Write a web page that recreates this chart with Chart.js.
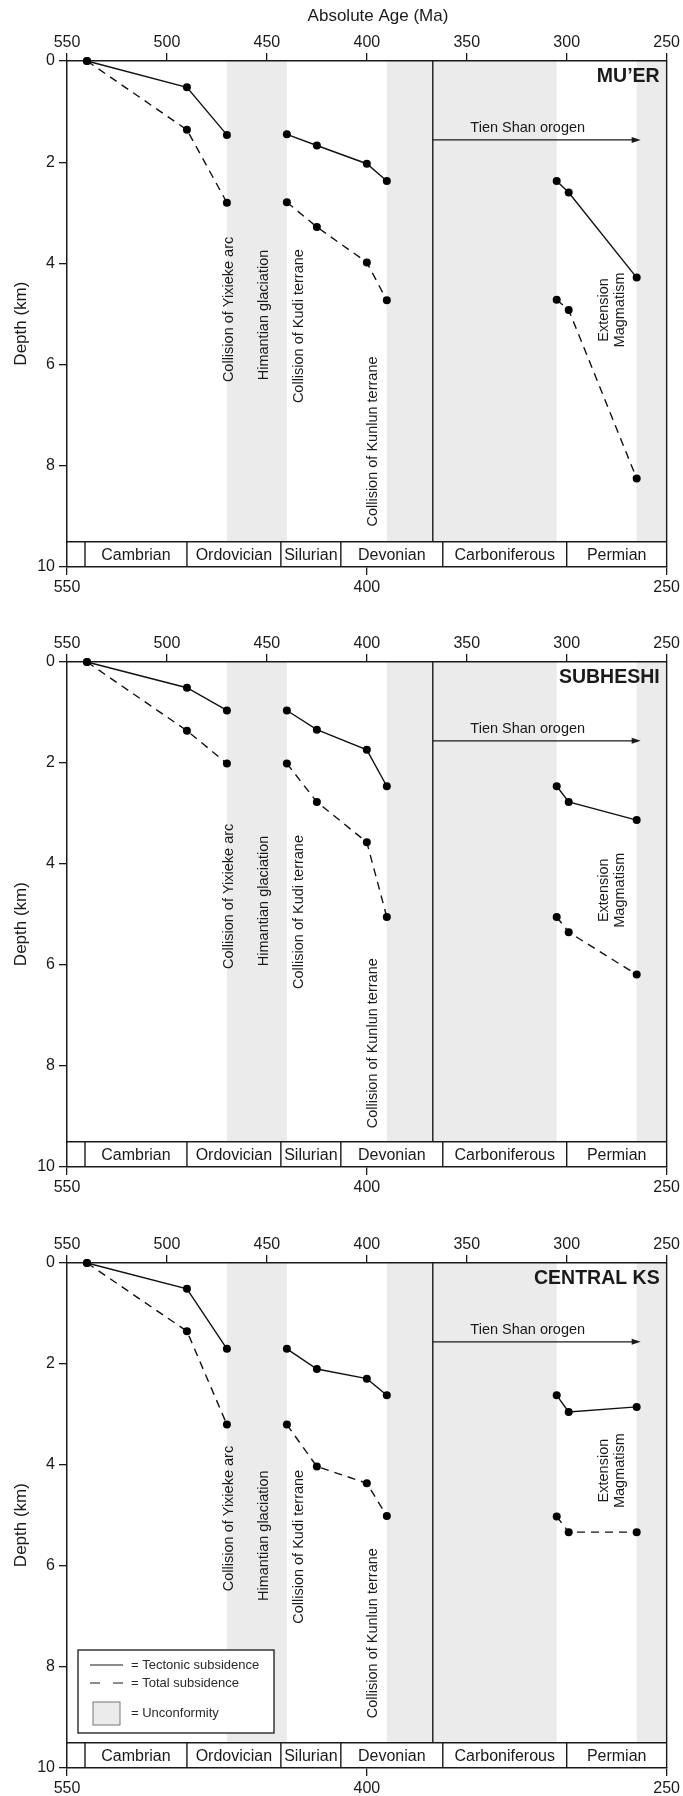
<!DOCTYPE html>
<html>
<head>
<meta charset="utf-8">
<title>Subsidence curves</title>
<script src="https://cdn.jsdelivr.net/npm/chart.js@4.4.1/dist/chart.umd.min.js"></script>
<style>
  body { margin: 0; background: #fff; }
  #wrap { position: relative; width: 683px; height: 1796px; overflow: hidden; }
  canvas { position: absolute; left: 0; }
</style>
</head>
<body>
<div id="wrap">
  <canvas id="muer" width="683" height="601" style="top:0px"></canvas>
  <canvas id="subheshi" width="683" height="601" style="top:601px"></canvas>
  <canvas id="central" width="683" height="594" style="top:1202px"></canvas>
</div>
<script>
// Ages (Ma) of the control points, same for the three wells
const sampleAges = [540, 490, 470, 440, 425, 400, 390, 305, 299, 265];
// curves are not joined after these indexes (unconformities)
const gapAfter = [2, 6];

// Depth (km)
const muerTectonic = [0, 0.52, 1.46, 1.45, 1.67, 2.03, 2.37, 2.37, 2.6, 4.28];
const muerTotal = [0, 1.36, 2.8, 2.79, 3.28, 3.98, 4.73, 4.72, 4.92, 8.25];
const subheshiTectonic = [0, 0.51, 0.96, 0.96, 1.34, 1.74, 2.46, 2.46, 2.77, 3.13];
const subheshiTotal = [0, 1.36, 2.01, 2.01, 2.77, 3.57, 5.05, 5.05, 5.35, 6.19];
const centralTectonic = [0, 0.51, 1.7, 1.7, 2.1, 2.29, 2.62, 2.62, 2.95, 2.85];
const centralTotal = [0, 1.35, 3.2, 3.2, 4.03, 4.36, 5.01, 5.02, 5.33, 5.33];

// Axes
const topTicks = [550, 500, 450, 400, 350, 300, 250];
const bottomTicks = [550, 400, 250];
const depthTicks = [0, 2, 4, 6, 8, 10];

// Geological time scale row
const periodNames = ['Cambrian', 'Ordovician', 'Silurian', 'Devonian', 'Carboniferous', 'Permian'];
const periodBounds = [541, 490, 443, 413, 362, 300, 250];

// Grey unconformity bands (from, to in Ma)
const unconformities = [[470, 440], [390, 305], [265, 250]];

// Tectonic events
const eventNames = ['Collision of Yixieke arc', 'Himantian glaciation', 'Collision of Kudi terrane', 'Collision of Kunlun terrane'];
const eventAges = [469.2, 451.6, 433.8, 397];
const orogenName = 'Tien Shan orogen';
const orogenFrom = 367;
const orogenTo = 263;
const extensionLines = ['Extension', 'Magmatism'];
const extensionAges = [281.5, 273.5];

const FONT = "'Liberation Sans', Arial, Helvetica, sans-serif";
const INK = '#1a1a1a';

Chart.defaults.font.family = FONT;
Chart.defaults.color = INK;

// layout of each panel, positions of the rotated texts are depths in km
const panels = [
    { id: 'muer', name: 'MU\u2019ER', tectonic: muerTectonic, total: muerTotal,
      height: 601, top: 61, bottom: 567, ageTitle: true,
      eventDepth: [4.91, 5.02, 5.24, 7.52], extDepth: 4.92, legend: false },
    { id: 'subheshi', name: 'SUBHESHI', tectonic: subheshiTectonic, total: subheshiTotal,
      height: 601, top: 61, bottom: 566, ageTitle: false,
      eventDepth: [4.64, 4.73, 4.95, 7.55], extDepth: 4.52, legend: false },
    { id: 'central', name: 'CENTRAL KS', tectonic: centralTectonic, total: centralTotal,
      height: 594, top: 61, bottom: 566, ageTitle: false,
      eventDepth: [5.06, 5.4, 5.62, 7.33], extDepth: 4.11, legend: true }
];

function points(depths) {
    return sampleAges.map((age, i) => ({ x: age, y: depths[i] }));
}

function upText(ctx, text, px, py) {
    ctx.save();
    ctx.translate(px, py);
    ctx.rotate(-Math.PI / 2);
    ctx.textAlign = 'center';
    ctx.textBaseline = 'middle';
    ctx.fillText(text, 0, 0);
    ctx.restore();
}

function decor(panel) {
    return {
        id: 'decor_' + panel.id,
        beforeDraw(chart) {
            const { ctx, scales: { x, y } } = chart;
            ctx.save();
            ctx.fillStyle = '#ebebeb';
            unconformities.forEach(([from, to]) => {
                const x0 = x.getPixelForValue(from);
                const x1 = x.getPixelForValue(to);
                const y0 = y.getPixelForValue(0);
                const y1 = y.getPixelForValue(9.5);
                ctx.fillRect(x0, y0, x1 - x0, y1 - y0);
            });
            ctx.restore();
        },
        afterDatasetsDraw(chart) {
            const { ctx, chartArea: a, scales: { x, y } } = chart;
            ctx.save();
            ctx.strokeStyle = INK;
            ctx.lineWidth = 1.4;

            // right side of the frame
            ctx.beginPath();
            ctx.moveTo(a.right, a.top);
            ctx.lineTo(a.right, a.bottom);
            ctx.stroke();

            // period row
            const yRow = y.getPixelForValue(9.5);
            ctx.beginPath();
            ctx.moveTo(a.left, yRow);
            ctx.lineTo(a.right, yRow);
            periodBounds.slice(0, -1).forEach(b => {
                const px = x.getPixelForValue(b);
                ctx.moveTo(px, yRow);
                ctx.lineTo(px, a.bottom);
            });
            // start of the Tien Shan orogeny
            const xo = x.getPixelForValue(orogenFrom);
            ctx.moveTo(xo, a.top);
            ctx.lineTo(xo, yRow);
            ctx.stroke();

            ctx.fillStyle = INK;
            ctx.font = '16px ' + FONT;
            ctx.textAlign = 'center';
            ctx.textBaseline = 'middle';
            periodNames.forEach((name, i) => {
                const mid = (periodBounds[i] + periodBounds[i + 1]) / 2;
                ctx.fillText(name, x.getPixelForValue(mid), y.getPixelForValue(9.75) + 1);
            });

            // orogen arrow
            const ya = y.getPixelForValue(1.56);
            const xe = x.getPixelForValue(orogenTo);
            ctx.lineWidth = 1.2;
            ctx.beginPath();
            ctx.moveTo(xo, ya);
            ctx.lineTo(xe - 6, ya);
            ctx.stroke();
            ctx.beginPath();
            ctx.moveTo(xe, ya);
            ctx.lineTo(xe - 9, ya - 3);
            ctx.lineTo(xe - 9, ya + 3);
            ctx.closePath();
            ctx.fill();
            ctx.font = '14.5px ' + FONT;
            ctx.fillText(orogenName, x.getPixelForValue(319.5), y.getPixelForValue(1.32));

            // rotated event labels
            eventNames.forEach((label, i) => {
                upText(ctx, label, x.getPixelForValue(eventAges[i]), y.getPixelForValue(panel.eventDepth[i]));
            });
            extensionLines.forEach((label, i) => {
                upText(ctx, label, x.getPixelForValue(extensionAges[i]), y.getPixelForValue(panel.extDepth));
            });

            // well name
            ctx.font = 'bold 19.5px ' + FONT;
            ctx.textAlign = 'right';
            ctx.fillText(panel.name, a.right - 7, a.top + 16);

            // depth title
            ctx.font = '17px ' + FONT;
            upText(ctx, 'Depth (km)', 21, y.getPixelForValue(5.19));

            if (panel.ageTitle) {
                ctx.textAlign = 'center';
                ctx.fillText('Absolute Age (Ma)', 378, 16);
            }

            if (panel.legend) {
                const bx = a.left + 11, by = a.bottom - 118, bw = 196, bh = 83;
                ctx.fillStyle = '#fff';
                ctx.fillRect(bx, by, bw, bh);
                ctx.lineWidth = 1.3;
                ctx.strokeRect(bx, by, bw, bh);
                ctx.lineWidth = 1.2;
                ctx.beginPath();
                ctx.moveTo(bx + 12, by + 15);
                ctx.lineTo(bx + 45, by + 15);
                ctx.stroke();
                ctx.setLineDash([10, 13]);
                ctx.beginPath();
                ctx.moveTo(bx + 12, by + 33);
                ctx.lineTo(bx + 45, by + 33);
                ctx.stroke();
                ctx.setLineDash([]);
                ctx.fillStyle = '#ebebeb';
                ctx.fillRect(bx + 15, by + 52, 27, 23);
                ctx.strokeStyle = '#777';
                ctx.lineWidth = 1;
                ctx.strokeRect(bx + 15, by + 52, 27, 23);
                ctx.fillStyle = '#2a2a2a';
                ctx.font = '13px ' + FONT;
                ctx.textAlign = 'left';
                ctx.textBaseline = 'middle';
                ctx.fillText('= Tectonic subsidence', bx + 53, by + 15);
                ctx.fillText('= Total subsidence', bx + 53, by + 33);
                ctx.fillText('= Unconformity', bx + 53, by + 63);
            }
            ctx.restore();
        }
    };
}

function lineSet(depths, dash) {
    return {
        data: points(depths),
        borderColor: '#111',
        borderWidth: 1.4,
        borderDash: dash,
        pointRadius: 4,
        pointBackgroundColor: '#000',
        pointBorderWidth: 0,
        clip: false,
        segment: {
            borderColor: ctx => gapAfter.includes(ctx.p0DataIndex) ? 'rgba(0,0,0,0)' : '#111'
        }
    };
}

const tickGrid = { drawOnChartArea: false, tickLength: 8, color: INK, lineWidth: 1.3 };
const axisBorder = { display: true, color: INK, width: 1.5 };

panels.forEach(panel => {
    new Chart(document.getElementById(panel.id), {
        type: 'line',
        data: {
            datasets: [lineSet(panel.total, [8, 6]), lineSet(panel.tectonic, [])]
        },
        options: {
            responsive: false,
            devicePixelRatio: 1,
            animation: false,
            events: [],
            layout: { padding: { left: 0, right: 16, top: 0, bottom: 0 } },
            plugins: { legend: { display: false }, tooltip: { enabled: false } },
            scales: {
                x: {
                    type: 'linear', position: 'top', reverse: true, min: 250, max: 550,
                    afterBuildTicks: s => { s.ticks = topTicks.map(v => ({ value: v })); },
                    afterFit: s => { s.height = panel.top; },
                    ticks: { font: { size: 16 }, padding: 1, autoSkip: false, maxRotation: 0 },
                    grid: tickGrid, border: axisBorder
                },
                x2: {
                    type: 'linear', position: 'bottom', reverse: true, min: 250, max: 550,
                    afterBuildTicks: s => { s.ticks = bottomTicks.map(v => ({ value: v })); },
                    afterFit: s => { s.height = panel.height - panel.bottom; },
                    ticks: { font: { size: 16 }, padding: 3, autoSkip: false, maxRotation: 0 },
                    grid: tickGrid, border: axisBorder
                },
                y: {
                    type: 'linear', position: 'left', reverse: true, min: 0, max: 10,
                    afterBuildTicks: s => { s.ticks = depthTicks.map(v => ({ value: v })); },
                    afterFit: s => { s.width = 67; },
                    ticks: { font: { size: 16 }, padding: 4 },
                    grid: tickGrid, border: axisBorder
                }
            }
        },
        plugins: [decor(panel)]
    });
});
</script>
</body>
</html>
